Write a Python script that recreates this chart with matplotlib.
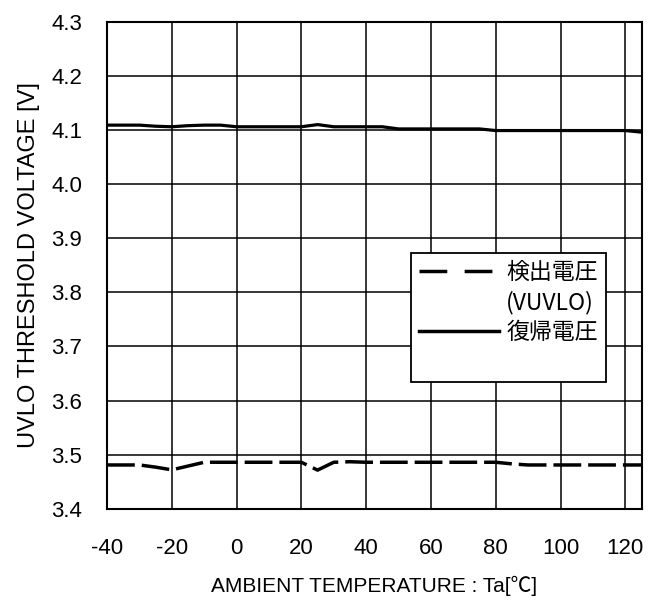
import matplotlib
matplotlib.use('Agg')
from matplotlib import pyplot as plt
from matplotlib.lines import Line2D
import numpy as np

plt.rcParams['font.family'] = ['Liberation Sans', 'Noto Sans CJK JP', 'DejaVu Sans']
plt.rcParams['axes.unicode_minus'] = False

# ambient temperature [degC]
temps = [-40, -35, -30, -25, -20, -15, -10, -5, 0, 5, 10, 15, 20, 25, 30, 35, 40,
         45, 50, 55, 60, 65, 70, 75, 80, 85, 90, 95, 100, 105, 110, 115, 120, 125]

# detect voltage (VUVLO) [V]
v_detect = [3.481, 3.481, 3.481, 3.477, 3.472, 3.479, 3.486, 3.486, 3.486, 3.486,
            3.486, 3.486, 3.486, 3.4715, 3.486, 3.487, 3.486, 3.486, 3.486, 3.486,
            3.486, 3.486, 3.486, 3.486, 3.486, 3.483, 3.481, 3.481, 3.481, 3.481,
            3.481, 3.481, 3.481, 3.481]

# release voltage [V]
v_release = [4.109, 4.109, 4.109, 4.107, 4.106, 4.108, 4.109, 4.109, 4.106, 4.106,
             4.106, 4.106, 4.106, 4.110, 4.106, 4.106, 4.106, 4.106, 4.102, 4.102,
             4.102, 4.102, 4.102, 4.102, 4.099, 4.099, 4.099, 4.099, 4.099, 4.099,
             4.099, 4.099, 4.099, 4.096]

x_ticks = [-40, -20, 0, 20, 40, 60, 80, 100, 120]
y_ticks = [3.4, 3.5, 3.6, 3.7, 3.8, 3.9, 4.0, 4.1, 4.2, 4.3]

fig = plt.figure(figsize=(6.53, 6.05), dpi=100)
ax = fig.add_axes([0.1639, 0.159, 0.8185, 0.805])

ax.plot(temps, v_detect, color='black', lw=2.5, dashes=(8, 2), dash_capstyle='butt',
        zorder=3)
ax.plot(temps, v_release, color='black', lw=2.3, zorder=3)

ax.set_xlim(-40, 125)
ax.set_ylim(3.4, 4.3)
ax.set_xticks(x_ticks)
ax.set_yticks(y_ticks)
ax.set_yticklabels(['%.1f' % v for v in y_ticks])
ax.tick_params(axis='both', length=0, labelsize=16)
ax.tick_params(axis='x', pad=21)
ax.tick_params(axis='y', pad=18)
ax.grid(True, color='black', lw=1.1)
for s in ax.spines.values():
    s.set_linewidth(1.5)

ax.set_xlabel('AMBIENT TEMPERATURE : Ta[℃]', fontsize=15, labelpad=12)
ax.set_ylabel('UVLO THRESHOLD VOLTAGE [V]', fontsize=17, labelpad=8)

handles = [
    Line2D([], [], color='black', lw=2.5, dashes=(8, 5)),
    Line2D([], [], color='none'),
    Line2D([], [], color='black', lw=2.5),
    Line2D([], [], color='none'),
]
labels = ['検出電圧', '(VUVLO)', '復帰電圧', ' ']
leg = ax.legend(handles, labels, loc='upper left', bbox_to_anchor=(0.569, 0.526),
                borderaxespad=0, prop={'family': ['Noto Sans CJK JP'], 'size': 16.5},
                handlelength=3.5, handletextpad=0.3, labelspacing=0.3,
                borderpad=0.35, fancybox=False, framealpha=1, edgecolor='black')
leg.get_frame().set_linewidth(1.3)

fig.savefig('out.png', dpi=100)
